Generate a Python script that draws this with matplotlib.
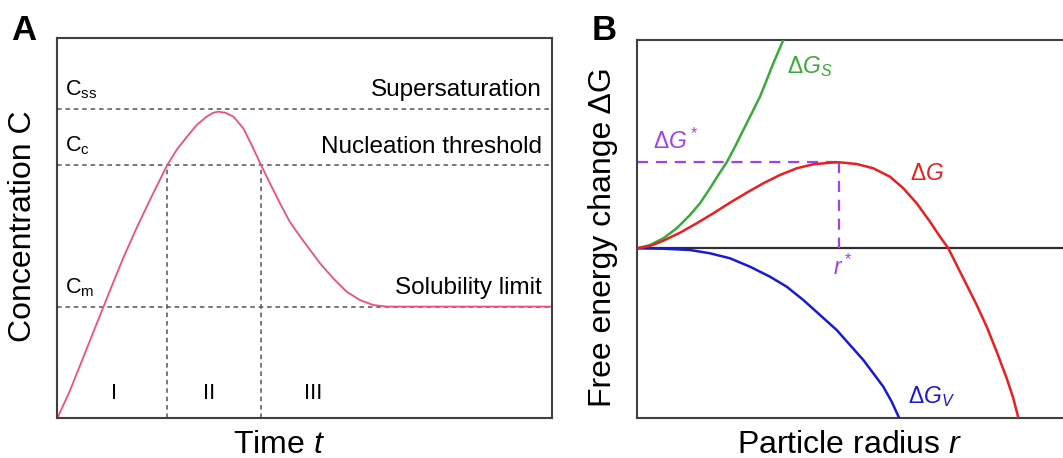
import matplotlib
matplotlib.use("Agg")
import matplotlib.pyplot as plt

plt.rcParams['font.family'] = ['Liberation Sans', 'DejaVu Sans']
plt.rcParams['mathtext.fontset'] = 'custom'
plt.rcParams['mathtext.rm'] = 'Liberation Sans'
plt.rcParams['mathtext.it'] = 'Liberation Sans:italic'
plt.rcParams['mathtext.bf'] = 'Liberation Sans:bold'

# Panel A: concentration vs time (arbitrary units)
time_pts = [0, 0.26, 0.53, 0.80, 1.07, 1.33, 1.60, 1.87, 2.22, 2.41, 2.62, 2.82, 3.02,
            3.15, 3.25, 3.40, 3.56, 3.76, 3.93, 4.12, 4.30, 4.50, 4.70, 4.91, 5.11,
            5.31, 5.58, 5.85, 6.12, 6.39, 6.66, 10]
conc_pts = [0, 0.74, 1.62, 2.50, 3.38, 4.21, 5.00, 5.74, 6.66, 7.06, 7.41, 7.72, 7.94,
            8.04, 8.07, 8.04, 7.94, 7.63, 7.19, 6.66, 6.18, 5.66, 5.17, 4.78, 4.43,
            4.08, 3.68, 3.33, 3.11, 2.98, 2.94, 2.94]
levels = [8.14, 6.66, 2.94]            # C_ss, C_c, C_m
level_names = ["C$_\\mathrm{ss}$", "C$_\\mathrm{c}$", "C$_\\mathrm{m}$"]
level_texts = ["Supersaturation", "Nucleation threshold", "Solubility limit"]
stage_bounds = [2.22, 4.12]
stages = ["I", "II", "III"]
stage_pos = [1.15, 3.07, 5.18]

# Panel B: free energy vs radius (arbitrary units)
r_s = [0, 0.127, 0.26, 0.394, 0.527, 0.627, 0.727, 0.81, 0.894, 0.977, 1.06,
       1.144, 1.227, 1.294, 1.36, 1.46]
g_s = [0, 0.033, 0.10, 0.20, 0.333, 0.45, 0.60, 0.733, 0.86, 1.016, 1.183,
       1.35, 1.516, 1.683, 1.85, 2.083]
r_v = [0, 0.26, 0.527, 0.727, 0.927, 1.127, 1.327, 1.494, 1.66, 1.827, 1.994,
       2.127, 2.26, 2.36, 2.46, 2.544, 2.62]
g_v = [0, -0.004, -0.017, -0.05, -0.10, -0.184, -0.284, -0.384, -0.517, -0.667, -0.817,
       -0.967, -1.117, -1.25, -1.384, -1.534, -1.70]
r_tot = [0, 0.127, 0.26, 0.427, 0.594, 0.76, 0.927, 1.094, 1.26, 1.427, 1.594, 1.76,
         1.927, 2.02, 2.194, 2.36, 2.527, 2.66, 2.794, 2.927, 3.027, 3.11, 3.21,
         3.294, 3.394, 3.494, 3.594, 3.694, 3.76, 3.81]
g_tot = [0, 0.023, 0.076, 0.156, 0.25, 0.35, 0.456, 0.556, 0.65, 0.733, 0.80, 0.84,
         0.856, 0.86, 0.843, 0.80, 0.716, 0.60, 0.45, 0.266, 0.116, 0.0, -0.20,
         -0.367, -0.567, -0.784, -1.034, -1.30, -1.50, -1.694]
r_crit, g_crit = 2.02, 0.86

W, H = 1063, 458
fig = plt.figure(figsize=(W / 100, H / 100), dpi=100)

spine_col = '#404040'
grey = '#555555'

# ---- Panel A ----
axA = fig.add_axes([57.3 / W, 1 - 418.3 / H, (552 - 57.3) / W, (418.3 - 38.3) / H])
axA.set_xlim(0, 10)
axA.set_ylim(0, 10)
for lv in levels:
    axA.axhline(lv, color=grey, lw=1.1, ls=(0, (3, 2.5)), zorder=1)
for sb in stage_bounds:
    axA.plot([sb, sb], [0, levels[1]], color=grey, lw=1.1, ls=(0, (3, 2.5)), zorder=1)
axA.plot(time_pts, conc_pts, color='#f04f78', lw=1.3, zorder=2,
         solid_joinstyle='round')

name_y = [8.51, 7.02, 3.29]
for lv, nm, tx, ny in zip(levels, level_names, level_texts, name_y):
    axA.text(0.15, ny, nm, fontsize=15.5, ha='left', va='baseline')
    axA.text(9.8, ny - 0.03, tx, fontsize=17.5, ha='right', va='baseline')
for st, sp in zip(stages, stage_pos):
    axA.text(sp, 0.52, st, fontsize=16, ha='center', va='baseline')

axA.set_xticks([])
axA.set_yticks([])
for s in axA.spines.values():
    s.set_color(spine_col)
    s.set_linewidth(1.5)

fig.text(23.5 / W, 1 - 226 / H, "Concentration C", rotation=90, fontsize=23,
         ha='center', va='center')
fig.text(279 / W, 1 - 453 / H, "Time $t$", fontsize=23, ha='center', va='baseline')
fig.text(11 / W, 1 - 40 / H, "A", fontsize=25, fontweight='bold', ha='left', va='baseline')

# ---- Panel B ----
axB = fig.add_axes([637.3 / W, 1 - 418 / H, (W - 637.3) / W, (418 - 40) / H])
axB.set_xlim(0, 4.257)
axB.set_ylim(-1.697, 2.083)
axB.axhline(0, color='#303030', lw=1.6, zorder=1)

purple = '#a040ee'
axB.plot([0, r_crit], [g_crit, g_crit], color=purple, lw=1.6, ls=(0, (5, 3.5)), zorder=2)
axB.plot([r_crit, r_crit], [g_crit, 0], color=purple, lw=1.6, ls=(0, (5, 3.5)), zorder=2)

axB.plot(r_s, g_s, color='#3aaa3a', lw=1.8, zorder=3, solid_joinstyle='round')
axB.plot(r_v, g_v, color='#1a1ad6', lw=1.8, zorder=3, solid_joinstyle='round')
axB.plot(r_tot, g_tot, color='#e8201f', lw=1.8, zorder=3, solid_joinstyle='round')

axB.text(1.494, 1.756, "$\\Delta G_S$", color='#3aaa3a', fontsize=16.5, ha='left', va='baseline')
axB.text(0.154, 0.993, "$\\Delta G^*$", color=purple, fontsize=16.5, ha='left', va='baseline')
axB.text(2.727, 0.683, "$\\Delta G$", color='#e8201f', fontsize=16.5, ha='left', va='baseline')
axB.text(2.71, -1.55, "$\\Delta G_V$", color='#1a1ad6', fontsize=16.5, ha='left', va='baseline')
axB.text(1.96, -0.267, "$r^*$", color=purple, fontsize=16.5, ha='left', va='baseline')

axB.set_xticks([])
axB.set_yticks([])
axB.spines['right'].set_visible(False)
for s in ['left', 'top', 'bottom']:
    axB.spines[s].set_color(spine_col)
    axB.spines[s].set_linewidth(1.5)

fig.text(603 / W, 1 - 237.5 / H, "Free energy change ΔG", rotation=90, fontsize=23,
         ha='center', va='center')
fig.text(850 / W, 1 - 453 / H, "Particle radius $r$", fontsize=23, ha='center', va='baseline')
fig.text(592 / W, 1 - 40 / H, "B", fontsize=25, fontweight='bold', ha='left', va='baseline')

fig.savefig("out.png", dpi=100)
